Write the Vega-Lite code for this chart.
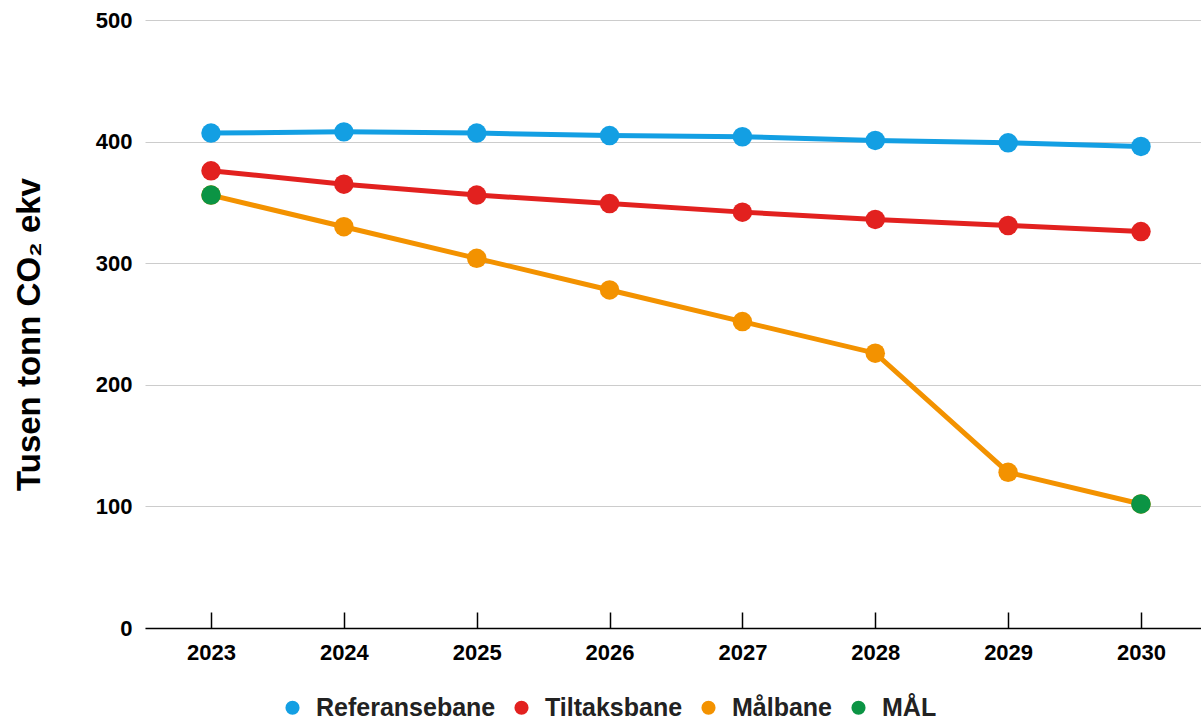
{
  "$schema": "https://vega.github.io/schema/vega-lite/v6.json",
  "width": 1056,
  "height": 608,
  "autosize": "none",
  "padding": {"left": 145, "top": 20, "right": 0, "bottom": 92},
  "background": "white",
  "config": {
    "view": {"stroke": null},
    "font": "Liberation Sans"
  },
  "data": {
    "values": [
      {"year": 2023, "serie": "Referansebane", "value": 407},
      {"year": 2024, "serie": "Referansebane", "value": 408},
      {"year": 2025, "serie": "Referansebane", "value": 407},
      {"year": 2026, "serie": "Referansebane", "value": 405},
      {"year": 2027, "serie": "Referansebane", "value": 404},
      {"year": 2028, "serie": "Referansebane", "value": 401},
      {"year": 2029, "serie": "Referansebane", "value": 399},
      {"year": 2030, "serie": "Referansebane", "value": 396},
      {"year": 2023, "serie": "Tiltaksbane", "value": 376},
      {"year": 2024, "serie": "Tiltaksbane", "value": 365},
      {"year": 2025, "serie": "Tiltaksbane", "value": 356},
      {"year": 2026, "serie": "Tiltaksbane", "value": 349},
      {"year": 2027, "serie": "Tiltaksbane", "value": 342},
      {"year": 2028, "serie": "Tiltaksbane", "value": 336},
      {"year": 2029, "serie": "Tiltaksbane", "value": 331},
      {"year": 2030, "serie": "Tiltaksbane", "value": 326},
      {"year": 2023, "serie": "Målbane", "value": 356},
      {"year": 2024, "serie": "Målbane", "value": 330},
      {"year": 2025, "serie": "Målbane", "value": 304},
      {"year": 2026, "serie": "Målbane", "value": 278},
      {"year": 2027, "serie": "Målbane", "value": 252},
      {"year": 2028, "serie": "Målbane", "value": 226},
      {"year": 2029, "serie": "Målbane", "value": 128},
      {"year": 2030, "serie": "Målbane", "value": 102},
      {"year": 2023, "serie": "MÅL", "value": 356},
      {"year": 2030, "serie": "MÅL", "value": 102}
    ]
  },
  "encoding": {
    "x": {
      "field": "year",
      "type": "quantitative",
      "scale": {"domain": [2022.503, 2030.452], "nice": false, "zero": false},
      "axis": {
        "values": [2023, 2024, 2025, 2026, 2027, 2028, 2029, 2030],
        "format": "d",
        "title": null,
        "labelAngle": 0,
        "grid": false,
        "domainColor": "#000000",
        "domainWidth": 1.5,
        "tickColor": "#000000",
        "tickWidth": 1.5,
        "tickSize": -16,
        "labelPadding": 30,
        "labelFontSize": 22,
        "labelFontWeight": "bold",
        "labelColor": "#000000",
        "labelFlush": false
      }
    },
    "y": {
      "field": "value",
      "type": "quantitative",
      "scale": {"domain": [0, 500], "nice": false},
      "axis": {
        "values": [0, 100, 200, 300, 400, 500],
        "title": "Tusen tonn CO₂ ekv",
        "titleFontSize": 33,
        "titleFontWeight": "bold",
        "titleColor": "#000000",
        "titlePadding": 49,
        "titleY": 314,
        "grid": true,
        "gridColor": "#cccccc",
        "gridWidth": 1,
        "domain": false,
        "ticks": false,
        "labelPadding": 13,
        "labelFontSize": 22,
        "labelFontWeight": "bold",
        "labelColor": "#000000"
      }
    },
    "color": {
      "field": "serie",
      "type": "nominal",
      "scale": {
        "domain": ["Referansebane", "Tiltaksbane", "Målbane", "MÅL"],
        "range": ["#139fe3", "#e2211f", "#f39200", "#0b9444"]
      },
      "legend": {
        "title": null,
        "orient": "none",
        "direction": "horizontal",
        "legendX": 135,
        "legendY": 675,
        "symbolType": "circle",
        "symbolSize": 200,
        "symbolStrokeWidth": 0,
        "labelFontSize": 25,
        "labelFontWeight": "bold",
        "labelColor": "#222222",
        "labelOffset": 11,
        "labelLimit": 0,
        "columnPadding": 13
      }
    }
  },
  "layer": [
    {
      "transform": [{"filter": "datum.serie !== 'MÅL'"}],
      "mark": {"type": "line", "strokeWidth": 5}
    },
    {
      "mark": {"type": "point", "filled": true, "size": 380, "opacity": 1}
    }
  ]
}
